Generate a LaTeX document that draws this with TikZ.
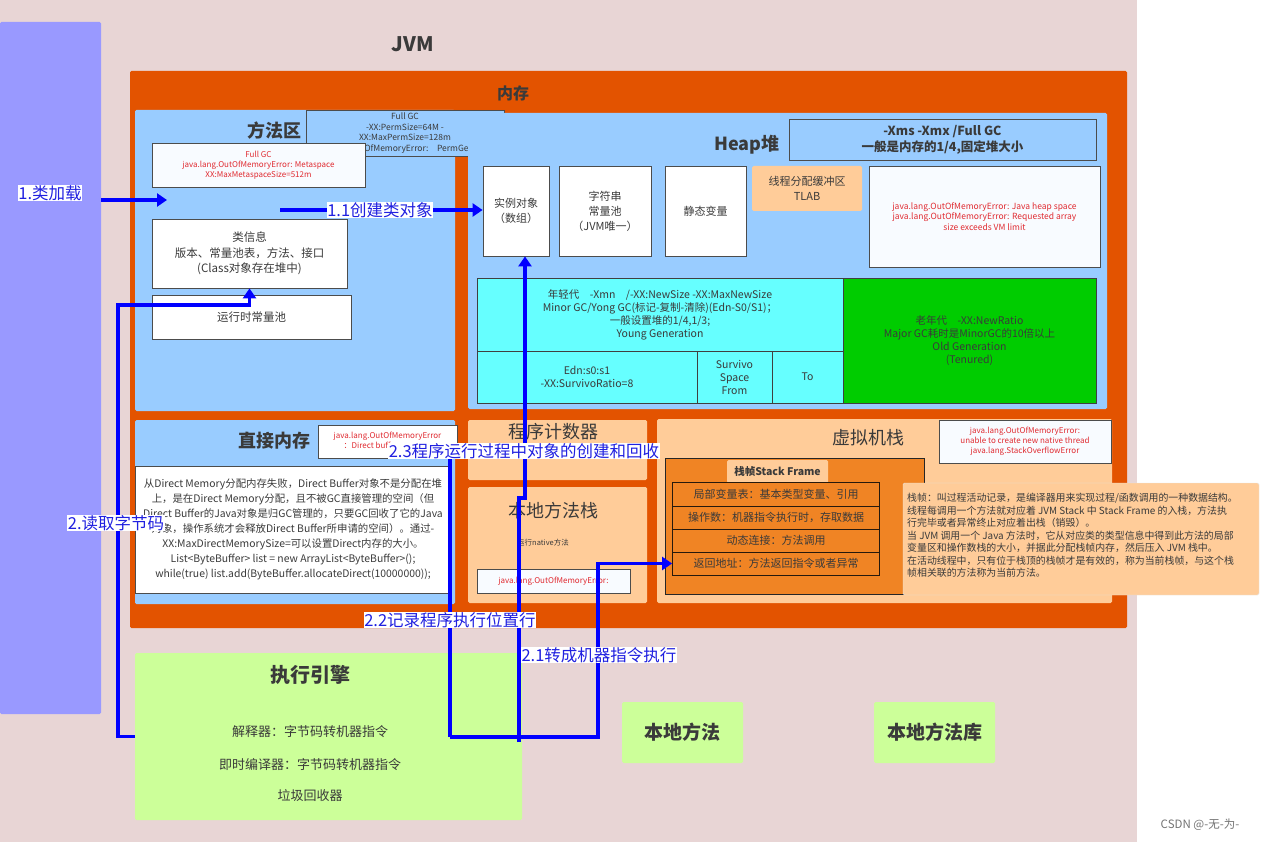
\documentclass[tikz,border=0pt]{standalone}
\usepackage{fontspec}
\setmainfont{Noto Sans CJK SC}
\usetikzlibrary{arrows.meta}
\definecolor{bgpink}{HTML}{E8D5D5}
\definecolor{purp}{HTML}{9999FF}
\definecolor{memor}{HTML}{E35300}
\definecolor{lblue}{HTML}{99CCFF}
\definecolor{lor}{HTML}{FFCC99}
\definecolor{cyanb}{HTML}{66FFFF}
\definecolor{oldg}{HTML}{00CC00}
\definecolor{sfor}{HTML}{F08424}
\definecolor{lgreen}{HTML}{CCFF99}
\definecolor{txt}{HTML}{3A3A3A}
\definecolor{errred}{HTML}{E02A30}
\definecolor{arrowb}{HTML}{0000FF}
\definecolor{lbltxt}{HTML}{2020E0}
\definecolor{wbox}{HTML}{F8FBFF}
\newcommand\fsz[2]{\fontsize{#1}{#2}\selectfont}
\begin{document}
\begin{tikzpicture}[x=1pt,y=-1pt,
  region/.style={draw=none, inner sep=0pt, outer sep=0pt, rounded corners=1.5pt},
  wbox/.style={draw=black!70, line width=0.8pt, fill=wbox, inner sep=1pt, align=center, text=txt},
  errtxt/.style={text=errred, font=\fsz{8}{10}},
  title/.style={text=txt, font=\bfseries\fsz{18}{20}},
  cell/.style={draw=black!75, line width=0.7pt, inner sep=1pt, align=center, text=txt, font=\fsz{10.5}{13}},
  sfrow/.style={draw=black!80!brown, line width=0.8pt, fill=sfor, minimum width=207, inner sep=0pt, text=txt, font=\fsz{11}{13}},
  flow/.style={draw=arrowb, line width=3.6pt},
  tip/.style={-{Triangle[width=13pt,length=10pt]}},
  lbl/.style={fill=white, inner sep=0.5pt, text=lbltxt, font=\fsz{16.5}{18}}
]
\useasboundingbox (0,0) rectangle (1264,842);
\fill[bgpink] (0,0) rectangle (1137,842);
\node[region, fill=purp, minimum width=101, minimum height=692] (purple) at (50.5,368) {};
\node[text=txt, font=\bfseries\fsz{20}{22}] (jvm) at (413,44) {JVM};
% memory
\node[region, fill=memor, minimum width=997, minimum height=557] (mem) at (628.5,349.5) {};
\node[text=txt, font=\bfseries\fsz{16}{18}] (memt) at (513,93) {内存};
% method area
\node[region, fill=lblue, minimum width=320, minimum height=301] (ma) at (295,260.5) {};
\node[title] (mat) at (274,131) {方法区};
\node[wbox, fill=lblue, minimum width=198, minimum height=46, font=\fsz{8.5}{10.5}] (perm) at (405,133) {Full GC\\-XX:PermSize=64M -\\XX:MaxPermSize=128m\\java.lang.OutOfMemoryError:\quad PermGen space};
\node[wbox, minimum width=213, minimum height=44, errtxt] (meta) at (258.5,165) {Full GC\\java.lang.OutOfMemoryError: Metaspace\\XX:MaxMetaspaceSize=512m};
\node[wbox, fill=white, minimum width=195, minimum height=69, font=\fsz{11.5}{15.5}] (classinfo) at (249.5,253.5) {类信息\\版本、常量池表，方法、接口\\(Class对象存在堆中)};
\node[wbox, fill=white, minimum width=199, minimum height=44, font=\fsz{11.5}{14}] (rcp) at (251.5,317) {运行时常量池};
% heap
\node[region, fill=lblue, minimum width=639, minimum height=296] (heap) at (787.5,261) {};
\node[title] (heapt) at (747,145) {Heap堆};
\node[wbox, fill=lblue, minimum width=307, minimum height=41, font=\bfseries\fsz{12.5}{16}] (xms) at (942.5,139.5) {-Xms -Xmx /Full GC\\一般是内存的1/4,固定堆大小};
\node[wbox, fill=white, minimum width=66, minimum height=90, font=\fsz{11}{15}] (inst) at (516,211) {实例对象\\（数组）};
\node[wbox, fill=white, minimum width=92, minimum height=90, font=\fsz{11}{15}] (strpool) at (605,211) {字符串\\常量池\\（JVM唯一）};
\node[wbox, fill=white, minimum width=81, minimum height=90, font=\fsz{11}{15}] (static) at (705.5,211) {静态变量};
\node[region, fill=lor, minimum width=110, minimum height=45, align=center, text=txt, font=\fsz{11}{15}] (tlab) at (807,188.5) {线程分配缓冲区\\TLAB};
\node[wbox, minimum width=231, minimum height=101, errtxt, font=\fsz{8.5}{10.5}] (heaperr) at (984.5,216.5) {java.lang.OutOfMemoryError: Java heap space\\java.lang.OutOfMemoryError: Requested array\\size exceeds VM limit};
\node[cell, fill=cyanb, minimum width=366, minimum height=73] (young) at (660,314.5) {年轻代\quad -Xmn\quad /-XX:NewSize -XX:MaxNewSize\\Minor GC/Yong GC(标记-复制-清除)(Edn-S0/S1)；\\一般设置堆的1/4,1/3;\\Young Generation};
\node[cell, fill=cyanb, minimum width=220, minimum height=52] (edn) at (587,377) {Edn:s0:s1\\-XX:SurvivoRatio=8};
\node[cell, fill=cyanb, minimum width=75, minimum height=52] (from) at (734.5,377) {Survivo\\Space\\From};
\node[cell, fill=cyanb, minimum width=71, minimum height=52] (to) at (807.5,377) {To};
\node[cell, fill=oldg, minimum width=253, minimum height=125] (old) at (969.5,340.5) {老年代\quad -XX:NewRatio\\Major GC耗时是MinorGC的10倍以上\\Old Generation\\(Tenured)};
% direct memory
\node[region, fill=lblue, minimum width=320, minimum height=184] (direct) at (295,512) {};
\node[title] (directt) at (274,441) {直接内存};
\node[wbox, fill=white, minimum width=139, minimum height=33, errtxt] (derr) at (387.5,441.5) {java.lang.OutOfMemoryError\\：Direct buffer memory};
\node[wbox, fill=white, minimum width=316, minimum height=127, font=\fsz{10.4}{15}] (dtext) at (293,529.5) {从Direct Memory分配内存失败，Direct Buffer对象不是分配在堆\\上，是在Direct Memory分配，且不被GC直接管理的空间（但\\Direct Buffer的Java对象是归GC管理的，只要GC回收了它的Java\\对象，操作系统才会释放Direct Buffer所申请的空间）。通过-\\XX:MaxDirectMemorySize=可以设置Direct内存的大小。\\List<ByteBuffer> list = new ArrayList<ByteBuffer>();\\while(true) list.add(ByteBuffer.allocateDirect(10000000));};
% program counter / native stack
\node[region, fill=lor, minimum width=179, minimum height=60] (pc) at (557.5,450) {};
\node[text=txt, font=\fsz{18}{20}] (pct) at (553,432) {程序计数器};
\node[region, fill=lor, minimum width=179, minimum height=116] (nms) at (557.5,545) {};
\node[text=txt, font=\fsz{18}{20}] (nmst) at (553,511) {本地方法栈};
\node[text=txt, font=\fsz{7.5}{9}] (nmsn) at (543,543) {运行native方法};
\node[wbox, minimum width=153, minimum height=24, errtxt] (nmserr) at (553.5,581) {java.lang.OutOfMemoryError:};
% VM stack
\node[region, fill=lor, minimum width=455, minimum height=184] (vms) at (884.5,511) {};
\node[text=txt, font=\fsz{18}{20}] (vmst) at (868,438) {虚拟机栈};
\node[wbox, minimum width=172, minimum height=43, errtxt] (vmserr) at (1025,441.5) {java.lang.OutOfMemoryError:\\unable to create new native thread\\java.lang.StackOverflowError};
\node[draw=black!85, line width=0.8pt, fill=sfor, minimum width=259, minimum height=136, inner sep=0pt] (sf) at (794.5,526) {};
\node[region, fill=lor, minimum width=101, minimum height=23, text=txt, font=\bfseries\fsz{10.5}{12}] (sft) at (777.5,471.5) {栈帧Stack Frame};
\node[sfrow, minimum height=23.5] (lvt) at (776,494.5) {局部变量表：基本类型变量、引用};
\node[sfrow, minimum height=23] (ops) at (776,517.5) {操作数：机器指令执行时，存取数据};
\node[sfrow, minimum height=23] (dyn) at (776,540.5) {动态连接：方法调用};
\node[sfrow, minimum height=23] (ret) at (776,563.5) {返回地址：方法返回指令或者异常};
\node[region, fill=lor, draw=black!10, minimum width=356, minimum height=112] (note) at (1081,539) {};
\node[anchor=north west, inner sep=0pt, text=txt, align=left, font=\fsz{9.9}{12.5}] (notet) at (907,493) {栈帧：叫过程活动记录，是编译器用来实现过程/函数调用的一种数据结构。\\线程每调用一个方法就对应着 JVM Stack 中 Stack Frame 的入栈，方法执\\行完毕或者异常终止对应着出栈（销毁）。\\当 JVM 调用一个 Java 方法时，它从对应类的类型信息中得到此方法的局部\\变量区和操作数栈的大小，并据此分配栈帧内存，然后压入 JVM 栈中。\\在活动线程中，只有位于栈顶的栈帧才是有效的，称为当前栈帧，与这个栈\\帧相关联的方法称为当前方法。};
% execution engine etc.
\node[region, fill=lgreen, minimum width=387, minimum height=167] (exec) at (328.5,736.5) {};
\node[text=txt, font=\bfseries\fsz{20}{22}] (exect) at (310,675) {执行引擎};
\node[text=txt, font=\fsz{13}{15}] (e1) at (310,732) {解释器：字节码转机器指令};
\node[text=txt, font=\fsz{13}{15}] (e2) at (310,765) {即时编译器：字节码转机器指令};
\node[text=txt, font=\fsz{13}{15}] (e3) at (310,796) {垃圾回收器};
\node[region, fill=lgreen, minimum width=121, minimum height=61, text=txt, font=\bfseries\fsz{19}{21}] (nm) at (682.5,732.5) {本地方法};
\node[region, fill=lgreen, minimum width=121, minimum height=61, text=txt, font=\bfseries\fsz{19}{21}] (nml) at (934.5,732.5) {本地方法库};
% connectors
\coordinate (main) at (167,200);
\draw[flow, tip] (purple.east |- main) -- (main);
\coordinate (ccs) at (280,210);
\draw[flow, tip] (ccs) -- (inst.west |- ccs);
\coordinate (rb) at (118,305);
\draw[flow, tip] (exec.west) -| (rb) -| (classinfo.south);
\coordinate (e23) at (519,742);
\coordinate (j23) at (525,498);
\draw[flow, tip] (e23) |- (j23) -- (j23 |- inst.south);
\coordinate (b22) at (450,737);
\coordinate (b21) at (598,737);
\draw[flow, tip] (b22) |- (pc.west);
\draw[flow, tip] (b22) -- (b21) |- (ret.west);
% labels
\node[lbl] (l1) at (50,193) {1.类加载};
\node[lbl] (l11) at (380,210) {1.1创建类对象};
\node[lbl] (l2) at (116,523) {2.读取字节码};
\node[lbl] (l23) at (524,451) {2.3程序运行过程中对象的创建和回收};
\node[lbl] (l22) at (450,620) {2.2记录程序执行位置行};
\node[lbl] (l21) at (599,655) {2.1转成机器指令执行};
\node[text=black!55, font=\fsz{11.5}{13}] (wm) at (1200,825) {CSDN @-无-为-};
\end{tikzpicture}
\end{document}
